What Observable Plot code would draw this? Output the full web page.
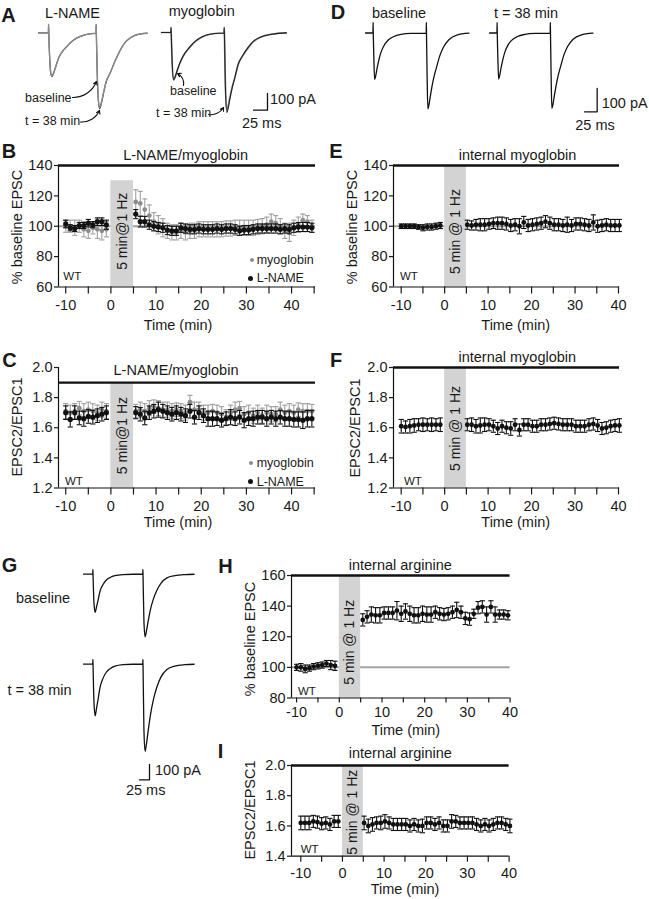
<!DOCTYPE html>
<html><head><meta charset="utf-8">
<script src="https://cdn.jsdelivr.net/npm/d3@7"></script>
<script src="https://cdn.jsdelivr.net/npm/@observablehq/plot@0.6"></script>
<style>
body{margin:0;background:#fff;}
#fig{position:relative;width:649px;height:899px;overflow:hidden;background:#fff;font-family:"Liberation Sans",Arial,Helvetica,sans-serif;color:#1a1a1a;}
#fig svg{position:absolute;overflow:visible;}
.t{position:absolute;white-space:nowrap;line-height:1;}
</style></head><body><div id="fig"></div>
<script>
// ---------------- DATA ----------------
// Time-course axes
const stimWindow = [0, 5];
const xMajorTicks = [-10, 0, 10, 20, 30, 40];
const xMinorTicksB = [-5, 5, 15, 25, 35, 45];
const xMinorTicks = [-5, 5, 15, 25, 35];
const pctTicks = [60, 80, 100, 120, 140];
const pctTicksH = [80, 100, 120, 140, 160];
const ratioTicks = [1.2, 1.4, 1.6, 1.8, 2.0];
const ratioTicksI = [1.4, 1.6, 1.8, 2.0];

// Times (min)
const tB = [-10,-9,-8,-7,-6,-5,-4,-3,-2,-1,5.5,6.5,7.5,8.5,9.5,10.5,11.5,12.5,13.5,14.5,15.5,16.5,17.5,18.5,19.5,20.5,21.5,22.5,23.5,24.5,25.5,26.5,27.5,28.5,29.5,30.5,31.5,32.5,33.5,34.5,35.5,36.5,37.5,38.5,39.5,40.5,41.5,42.5,43.5,44.5];
const tE = [-10,-9,-8,-7,-6,-5,-4,-3,-2,-1,5.2,6.2,7.2,8.2,9.2,10.2,11.2,12.2,13.2,14.2,15.2,16.2,17.2,18.2,19.2,20.2,21.2,22.2,23.2,24.2,25.2,26.2,27.2,28.2,29.2,30.2,31.2,32.2,33.2,34.2,35.2,36.2,37.2,38.2,39.2,40.2];
const tH = [-10,-9,-8,-7,-6,-5,-4,-3,-2,-1,5.5,6.5,7.5,8.5,9.5,10.5,11.5,12.5,13.5,14.5,15.5,16.5,17.5,18.5,19.5,20.5,21.5,22.5,23.5,24.5,25.5,26.5,27.5,28.5,29.5,30.5,31.5,32.5,33.5,34.5,35.5,36.5,37.5,38.5,39.5];

// B: % baseline EPSC
const bLname = [101.5,99,98.5,100.5,100.5,102,101,103,103,101, 108,103,103,101,100,99.5,99,97.5,97,97, 99,98.5,98,98,98.5,98,98,98,98.5,98, 98.5,98.5,98,97,97.5,97.5,98,98.5,98.5,98.5, 98.5,98.5,98,98.5,98,99,99.5,99.5,99.5,99];
const bLnameErr = [2.5,2,2,2,2,2.5,2,2.5,2.5,3, 3,3.5,3.5,3,3,3,3,3,3,3, 3,3,3,3,3,3,3,3,3,3, 3,3,3,3,3,3,3,3,3,3, 3,3,3,3,3,3,3,3,3,3];
const bMyo = [100,100,99,100,98,97,99,98,97,98, 116,115,111,107,103,101,99,97,96,96, 97,96,97,97,98,98,98,98,98,98, 98.5,98.5,99,99,99,99,99,99.5,100,101, 103,102,100,97,96,99,101,104,103,100];
const bMyoErr = [4,4,5,4,5,5,4,6,6,5, 8,8,7,7,6,6,6,5,5,5, 5,5,5,5,5,5,5,5,5,5, 5,5,5,5,5,5,5,5,5,5, 5,5,5,5,6,5,5,4,4,4];

// C: EPSC2/EPSC1
const cLname = [1.70,1.655,1.70,1.665,1.66,1.675,1.67,1.68,1.69,1.70, 1.70,1.69,1.665,1.70,1.71,1.72,1.71,1.70,1.69,1.70, 1.69,1.68,1.71,1.67,1.70,1.68,1.66,1.66,1.66,1.65, 1.66,1.67,1.66,1.67,1.65,1.66,1.66,1.67,1.67,1.66, 1.67,1.66,1.67,1.66,1.66,1.655,1.655,1.65,1.66,1.66];
const cLnameErr = [0.045,0.05,0.045,0.045,0.05,0.045,0.045,0.045,0.045,0.045, 0.04,0.045,0.045,0.045,0.045,0.05,0.045,0.045,0.045,0.045, 0.045,0.045,0.045,0.045,0.045,0.045,0.05,0.05,0.045,0.045, 0.045,0.05,0.045,0.045,0.05,0.045,0.05,0.045,0.045,0.05, 0.045,0.05,0.045,0.05,0.05,0.05,0.05,0.055,0.055,0.055];
const cMyo = [1.71,1.70,1.71,1.73,1.71,1.72,1.71,1.70,1.72,1.71, 1.71,1.72,1.71,1.73,1.74,1.73,1.72,1.72,1.71,1.72, 1.71,1.70,1.77,1.72,1.72,1.70,1.70,1.71,1.70,1.69, 1.67,1.70,1.72,1.73,1.69,1.70,1.68,1.70,1.68,1.70, 1.69,1.69,1.72,1.70,1.71,1.70,1.72,1.71,1.71,1.71];
const cMyoErr = [0.05,0.05,0.05,0.045,0.05,0.05,0.05,0.05,0.05,0.05, 0.045,0.05,0.05,0.05,0.045,0.05,0.05,0.05,0.05,0.045, 0.05,0.05,0.045,0.05,0.05,0.05,0.05,0.045,0.05,0.05, 0.05,0.05,0.05,0.045,0.05,0.05,0.05,0.05,0.05,0.05, 0.05,0.05,0.05,0.05,0.05,0.05,0.045,0.05,0.05,0.045];

// E: internal myoglobin, % baseline EPSC
const eV = [100,100,100,100,99.5,99,99.5,99.5,100,100.5, 101,100.5,101,101,101,101.5,102,102,102,101.5, 100.5,101,100,102.5,100.5,101,101.5,102,103,102, 101,101,100.5,101,100.5,101.5,101.5,101,100.5,102.5, 100,100.5,101,100.5,100.5,100.5];
const eErr = [1.5,1.5,1.5,1.5,1.5,2,2,2,2,2, 3,3,3.5,4,4,3.5,3.5,4,4,4, 4,4,5,4,4,4,4,4,4,4, 4,4,4,5,4,4,4,4,4,5, 4,4,4,4,4,4];

// F: internal myoglobin, EPSC2/EPSC1
const fV = [1.61,1.605,1.61,1.615,1.62,1.62,1.62,1.62,1.62,1.62, 1.62,1.62,1.61,1.615,1.62,1.62,1.61,1.595,1.61,1.60, 1.595,1.62,1.585,1.62,1.62,1.61,1.61,1.62,1.62,1.625, 1.63,1.625,1.62,1.62,1.62,1.61,1.61,1.61,1.62,1.625, 1.615,1.595,1.60,1.61,1.615,1.615];
const fErr = [0.045,0.04,0.045,0.045,0.04,0.045,0.04,0.045,0.04,0.045, 0.04,0.045,0.045,0.05,0.045,0.04,0.04,0.04,0.04,0.04, 0.045,0.04,0.04,0.04,0.04,0.04,0.04,0.04,0.04,0.04, 0.04,0.04,0.04,0.04,0.04,0.04,0.04,0.04,0.04,0.04, 0.04,0.04,0.04,0.04,0.04,0.045];

// H: internal arginine, % baseline EPSC
const hV = [100,100,99,99.5,100.5,101,101.5,102.5,101.5,101, 131,133,134.5,134,134,135.5,135.5,135.5,137,135, 136.5,135,134,134,135,134.5,134.5,136,135,134.5, 135,136,137.5,136,132,131.5,135,139,139.5,134.5, 139.5,134.5,134.5,134.5,134];
const hErr = [2,2.5,2.5,2,2,2,2,2,3,3, 4,4,5,5,5,4,4,4,6,5, 5,5,5,5,5,5,5,4,4,4, 4,4,5,4,4,4,3,4,4,5, 4,5,3,3,3];

// I: internal arginine, EPSC2/EPSC1
const iV = [1.62,1.62,1.62,1.63,1.625,1.615,1.62,1.61,1.63,1.63, 1.62,1.60,1.61,1.62,1.62,1.63,1.62,1.61,1.61,1.61, 1.61,1.60,1.61,1.60,1.60,1.62,1.62,1.61,1.62,1.60, 1.60,1.63,1.63,1.62,1.62,1.62,1.62,1.61,1.60,1.61, 1.60,1.61,1.62,1.62,1.61,1.60];
const iErr = [0.045,0.045,0.045,0.04,0.04,0.04,0.04,0.04,0.04,0.04, 0.045,0.045,0.045,0.04,0.045,0.045,0.04,0.04,0.04,0.04, 0.04,0.04,0.04,0.04,0.045,0.04,0.04,0.04,0.04,0.04, 0.04,0.045,0.04,0.04,0.04,0.04,0.04,0.04,0.04,0.04, 0.04,0.04,0.04,0.04,0.04,0.045];

// Example EPSC traces (ms, pA)
const aLnameMs = [-18,-0.3,0,0.5,2,4,6,9,13,18,25,33,42,51,62,75,84.7,85,85.5,87,89,91,94,98,103,110,118,127,136,147,160,176];
const aLnameBase = [0,0,50,-20,-150,-240,-260,-240,-200,-150,-110,-80,-50,-30,-15,-5,-3,50,-30,-250,-400,-447,-420,-360,-290,-240,-175,-110,-60,-28,-9,-2];
const aLname38 = [0,0,50,-20,-155,-245,-262,-242,-200,-150,-110,-80,-50,-30,-15,-5,-3,50,-30,-260,-410,-455,-428,-365,-292,-240,-175,-110,-60,-28,-9,-2];
const aMyoMs = [-17,-0.3,0,0.5,2,4.5,7,10,14,19,25,32,40,50,62,78,94.7,95,95.5,97,99.5,102,105,109,114,120,128,137,147,160,180,206];
const aMyoBase = [0,0,30,-20,-180,-285,-270,-240,-200,-160,-125,-95,-65,-38,-18,-6,-3,30,-30,-300,-462,-440,-390,-330,-270,-190,-140,-95,-55,-28,-10,-2];
const aMyo38 = [0,0,30,-20,-175,-282,-268,-238,-198,-158,-122,-92,-62,-36,-17,-6,-3,30,-30,-310,-478,-455,-400,-335,-270,-190,-138,-92,-53,-27,-10,-2];
const dMs = [-15,-0.3,0,0.4,1.5,3,5,8,12,16,22,30,40,55,75,104.7,105,105.4,106.5,108,110,113,117,121,126,132,139,150,165,189];
const dBase = [0,0,45,-10,-110,-200,-185,-150,-110,-80,-52,-30,-16,-6,-2,-1,45,-15,-180,-326,-310,-270,-220,-180,-140,-95,-60,-28,-9,-1];
const d38 = [0,0,45,-10,-105,-198,-183,-148,-108,-78,-50,-29,-15,-6,-2,-1,45,-15,-175,-324,-308,-268,-218,-178,-138,-93,-58,-27,-9,-1];
const gMs = [-23.5,-0.3,0,0.5,2.5,5.5,9,13,18,25,33,43,55,75,100,124.7,125,125.5,127.5,130.5,134,138,144,151,160,170,185,205,230,253];
const gBase = [0,0,30,-20,-180,-250,-215,-170,-110,-70,-40,-22,-10,-3,-1,-1,30,-30,-300,-410,-370,-310,-230,-165,-105,-60,-25,-10,-3,-1];
const g38 = [0,0,30,-25,-240,-338,-290,-230,-150,-95,-55,-30,-14,-4,-1,-1,30,-40,-420,-571,-520,-440,-330,-235,-150,-85,-35,-13,-4,-1];

// Scale bar (25 ms, 100 pA)
const scaleMs = [0, 25, 25];
const scalePA = [0, 0, 100];

// Annotation arrows of panel A (panel pixel coordinates)
const arrowsA = [
  {x1: 72, y1: 97, x2: 96, y2: 81},
  {x1: 80, y1: 121.5, x2: 99, y2: 110},
  {x1: 183, y1: 85, x2: 177, y2: 73},
  {x1: 208, y1: 114, x2: 223, y2: 107}
];

// ---------------- DRAWING ----------------
const FONT = '"Liberation Sans", Arial, Helvetica, sans-serif';
const INK = "#1a1a1a";
const fig = document.getElementById("fig");
function put(el, left, top) { el.style.position = "absolute"; el.style.left = left + "px"; el.style.top = top + "px"; fig.appendChild(el); }
function txt(s, x, y, o = {}) {
  const d = document.createElement("div");
  d.className = "t"; d.textContent = s;
  d.style.fontSize = (o.size || 14.5) + "px";
  if (o.bold) d.style.fontWeight = "bold";
  const tx = o.anchor === "start" ? "0" : o.anchor === "end" ? "-100%" : "-50%";
  d.style.transform = `translate(${tx},-50%)` + (o.rot ? ` rotate(${o.rot}deg)` : "");
  put(d, x, y);
}
function legendDot(x, y, r, color) {
  const d = document.createElement("div");
  d.style.width = d.style.height = (2 * r) + "px";
  d.style.borderRadius = "50%"; d.style.background = color;
  put(d, x - r, y - r);
}
const cap = { draw(ctx, size) { const r = Math.sqrt(size / Math.PI); ctx.moveTo(-r, 0); ctx.lineTo(r, 0); } };

function timecourse(o) {
  const [L, R, T, B] = o.frame;
  const mL = 50, mR = 15, mT = 12, mB = 40;
  const xd = o.xDomain, yd = o.yDomain;
  const marks = [];
  if (o.ref != null) marks.push(Plot.ruleY([o.ref], {stroke: "#a3a3a3", strokeWidth: 2}));
  marks.push(Plot.rect([{a: stimWindow[0], b: stimWindow[1], c: yd[0], d: o.shadeTop}], {x1: "a", x2: "b", y1: "c", y2: "d", fill: "#d3d3d3"}));
  marks.push(Plot.text([{x: (stimWindow[0] + stimWindow[1]) / 2, y: o.labelY, s: o.stimText}], {x: "x", y: "y", text: "s", rotate: -90, fontSize: 14, fill: INK}));
  marks.push(Plot.ruleY([o.bar], {stroke: "#111", strokeWidth: 2.3}));
  marks.push(Plot.ruleX([xd[0]], {stroke: "#111", strokeWidth: 1.2}));
  marks.push(Plot.ruleY([yd[0]], {stroke: "#111", strokeWidth: 1.2}));
  marks.push(Plot.axisY({ticks: o.yTicks, tickSize: 4, tickPadding: 2, tickFormat: o.yFormat, label: null, strokeWidth: 1.2}));
  marks.push(Plot.axisX({ticks: xMajorTicks, tickSize: o.xTickSize ?? 7, tickPadding: o.xTickPad ?? 6, tickFormat: d => String(d), label: null, strokeWidth: 1.2}));
  marks.push(Plot.axisX({ticks: o.xMinor, tickSize: o.xTickSize ?? 7, tickFormat: () => "", label: null, strokeWidth: 1.2}));
  for (const s of o.series) {
    const rows = s.t.map((t, i) => ({t, v: s.v[i], lo: s.v[i] - s.e[i], hi: s.v[i] + s.e[i]}));
    marks.push(Plot.ruleX(rows, {x: "t", y1: "lo", y2: "hi", stroke: s.err, strokeWidth: 1.1}));
    marks.push(Plot.dot(rows, {x: "t", y: "hi", symbol: cap, r: 2.6, stroke: s.err, fill: "none", strokeWidth: 1.1}));
    marks.push(Plot.dot(rows, {x: "t", y: "lo", symbol: cap, r: 2.6, stroke: s.err, fill: "none", strokeWidth: 1.1}));
    marks.push(Plot.dot(rows, {x: "t", y: "v", r: s.r ?? 2.4, fill: s.fill, stroke: "none"}));
  }
  const svg = Plot.plot({
    width: R - L + mL + mR, height: B - T + mT + mB,
    marginLeft: mL, marginRight: mR, marginTop: mT, marginBottom: mB,
    x: {domain: xd}, y: {domain: yd},
    style: {fontFamily: FONT, fontSize: "14.5px", background: "transparent", color: INK, overflow: "visible"},
    marks
  });
  put(svg, L - mL, T - mT);
}

function traces(o) {
  const pad = 4;
  const all = o.series.flatMap(s => s.v);
  const t0 = d3.min(o.t), t1 = d3.max(o.t), v0 = d3.min(all), v1 = d3.max(all);
  const svg = Plot.plot({
    width: (t1 - t0) * o.pxMs + 2 * pad, height: (v1 - v0) * o.pxPA + 2 * pad,
    margin: pad, x: {domain: [t0, t1]}, y: {domain: [v0, v1]}, axis: null,
    style: {background: "transparent", overflow: "visible"},
    marks: o.series.map(s => Plot.line(o.t.map((x, i) => ({x, y: s.v[i]})), {x: "x", y: "y", stroke: s.color, strokeWidth: s.w ?? 1.3, curve: "monotone-x"}))
  });
  put(svg, o.ox + t0 * o.pxMs - pad, o.oy - v1 * o.pxPA - pad);
}

function scaleBar(o) {
  const pad = 3;
  const svg = Plot.plot({
    width: 25 * o.pxMs + 2 * pad, height: 100 * o.pxPA + 2 * pad, margin: pad,
    x: {domain: [0, 25]}, y: {domain: [0, 100]}, axis: null,
    style: {background: "transparent", overflow: "visible"},
    marks: [Plot.line(scaleMs.map((x, i) => ({x, y: scalePA[i]})), {x: "x", y: "y", stroke: "#111", strokeWidth: 1.3})]
  });
  put(svg, o.cx - 25 * o.pxMs - pad, o.cy - 100 * o.pxPA - pad);
}

const GRAY = "#8c8c8c", GRAYERR = "#a0a0a0", BLACK = "#111";
const fmt1 = d => d.toFixed(1);
const fmt0 = d => String(d);

// B
timecourse({frame: [58, 315, 165, 286.5], xDomain: [-11.6, 45.3], yDomain: [60, 140], yTicks: pctTicks, yFormat: fmt0,
  xMinor: xMinorTicksB, shadeTop: 130, bar: 140, ref: 100, labelY: 96.7, stimText: "5 min@1 Hz",
  series: [{t: tB, v: bMyo, e: bMyoErr, fill: GRAY, err: GRAYERR}, {t: tB, v: bLname, e: bLnameErr, fill: BLACK, err: BLACK, r: 2.6}]});
// C
timecourse({frame: [58, 315, 367, 487.5], xDomain: [-11.6, 45.3], yDomain: [1.2, 2.0], yTicks: ratioTicks, yFormat: fmt1,
  xMinor: xMinorTicksB, shadeTop: 1.9, bar: 1.9, labelY: 1.548, stimText: "5 min@1 Hz",
  series: [{t: tB, v: cMyo, e: cMyoErr, fill: GRAY, err: GRAYERR}, {t: tB, v: cLname, e: cLnameErr, fill: BLACK, err: BLACK, r: 2.6}]});
// E
timecourse({frame: [393.3, 619.3, 165, 286.5], xDomain: [-11.77, 40.23], yDomain: [60, 140], yTicks: pctTicks, yFormat: fmt0,
  xMinor: xMinorTicks, shadeTop: 140, bar: 140, ref: 100, labelY: 96.5, stimText: "5 min @ 1 Hz",
  series: [{t: tE, v: eV, e: eErr, fill: BLACK, err: BLACK}]});
// F
timecourse({frame: [393.3, 619.3, 367, 487.5], xDomain: [-11.77, 40.23], yDomain: [1.2, 2.0], yTicks: ratioTicks, yFormat: fmt1,
  xMinor: xMinorTicks, shadeTop: 2.0, bar: 2.0, labelY: 1.595, stimText: "5 min @ 1 Hz",
  series: [{t: tE, v: fV, e: fErr, fill: BLACK, err: BLACK}]});
// H
timecourse({frame: [290.7, 509.3, 575, 697.5], xDomain: [-11.19, 40], yDomain: [80, 160], yTicks: pctTicksH, yFormat: fmt0,
  xMinor: xMinorTicks, shadeTop: 160, bar: 160, ref: 100, labelY: 116.4, stimText: "5 min @ 1 Hz", xTickSize: 5, xTickPad: 4,
  series: [{t: tH, v: hV, e: hErr, fill: BLACK, err: BLACK}]});
// I
timecourse({frame: [290.7, 508.3, 765, 855.7], xDomain: [-12.23, 40], yDomain: [1.4, 2.0], yTicks: ratioTicksI, yFormat: fmt1,
  xMinor: xMinorTicks, shadeTop: 2.0, bar: 2.0, labelY: 1.691, stimText: "5 min @ 1 Hz", xTickSize: 6, xTickPad: 6,
  series: [{t: tE, v: iV, e: iErr, fill: BLACK, err: BLACK}]});

// Traces A
traces({t: aLnameMs, pxMs: 0.56, pxPA: 0.167, ox: 48.3, oy: 32.7, series: [{v: aLname38, color: "#444", w: 1.2}, {v: aLnameBase, color: "#8a8a8a", w: 1.4}]});
traces({t: aMyoMs, pxMs: 0.56, pxPA: 0.167, ox: 170.7, oy: 31.7, series: [{v: aMyoBase, color: "#8a8a8a", w: 1.7}, {v: aMyo38, color: "#222", w: 1.1}]});
scaleBar({pxMs: 0.56, pxPA: 0.167, cx: 266.7, cy: 110});
// Traces D
traces({t: dMs, pxMs: 0.507, pxPA: 0.233, ox: 372.7, oy: 32.3, series: [{v: dBase, color: BLACK}]});
traces({t: dMs, pxMs: 0.507, pxPA: 0.233, ox: 496.7, oy: 32.3, series: [{v: d38, color: BLACK}]});
scaleBar({pxMs: 0.507, pxPA: 0.233, cx: 596.7, cy: 111.7});
// Traces G
traces({t: gMs, pxMs: 0.4, pxPA: 0.153, ox: 92.7, oy: 573.3, series: [{v: gBase, color: BLACK}]});
traces({t: gMs, pxMs: 0.4, pxPA: 0.153, ox: 92.7, oy: 663.3, series: [{v: g38, color: BLACK}]});
scaleBar({pxMs: 0.4, pxPA: 0.153, cx: 149.3, cy: 779.3});

// Arrows of panel A
{
  const svg = Plot.plot({width: 330, height: 135, margin: 0, axis: null,
    x: {domain: [0, 330], range: [0, 330]}, y: {domain: [0, 135], range: [0, 135]},
    style: {background: "transparent", overflow: "visible"},
    marks: [Plot.arrow(arrowsA, {x1: "x1", y1: "y1", x2: "x2", y2: "y2", bend: -35, headLength: 5, stroke: BLACK, strokeWidth: 1.1})]});
  put(svg, 0, 0);
}

// ---------------- TEXT ----------------
const letters = [["A", 8.5, 14.5], ["D", 338, 12], ["B", 9, 150.5], ["E", 336, 150.5], ["C", 9.5, 359.5], ["F", 336, 359.5], ["G", 9.5, 564.5], ["H", 225.5, 565.5], ["I", 220.5, 750.5]];
for (const [s, x, y] of letters) txt(s, x, y, {size: 20, bold: true});

// titles
txt("L-NAME", 72.5, 13);
txt("myoglobin", 201.7, 11);
txt("baseline", 399, 13.3);
txt("t = 38 min", 526, 13.3);
txt("L-NAME/myoglobin", 185.7, 155);
txt("internal myoglobin", 517.5, 155);
txt("L-NAME/myoglobin", 176, 370);
txt("internal myoglobin", 517.3, 357.3);
txt("internal arginine", 400.3, 565);
txt("internal arginine", 400.3, 753.3);

// trace annotations
txt("baseline", 25, 98.3, {size: 12.5, anchor: "start"});
txt("t = 38 min", 25, 120.7, {size: 12.5, anchor: "start"});
txt("baseline", 170, 90.7, {size: 12.5, anchor: "start"});
txt("t = 38 min", 156, 112.7, {size: 12.5, anchor: "start"});
txt("100 pA", 270, 99.3, {anchor: "start"});
txt("25 ms", 261.7, 123.3);
txt("100 pA", 601.7, 103, {anchor: "start"});
txt("25 ms", 595, 125);
txt("baseline", 43, 598.3);
txt("t = 38 min", 39.5, 690);
txt("100 pA", 155, 770, {anchor: "start"});
txt("25 ms", 145.7, 790);

// axis labels
txt("% baseline EPSC", 16.7, 227, {rot: -90});
txt("EPSC2/EPSC1", 16.7, 426.7, {rot: -90});
txt("% baseline EPSC", 351.7, 227, {rot: -90});
txt("EPSC2/EPSC1", 355, 428, {rot: -90});
txt("% baseline EPSC", 250, 639, {rot: -90});
txt("EPSC2/EPSC1", 250, 810, {rot: -90});
txt("Time (min)", 178, 325);
txt("Time (min)", 515.7, 325);
txt("Time (min)", 178, 522);
txt("Time (min)", 515.7, 522);
txt("Time (min)", 405.8, 730);
txt("Time (min)", 405, 889);

// WT
txt("WT", 63.3, 277, {size: 11.5, anchor: "start"});
txt("WT", 65, 482.3, {size: 11.5, anchor: "start"});
txt("WT", 400, 276.7, {size: 11.5, anchor: "start"});
txt("WT", 404, 482.3, {size: 11.5, anchor: "start"});
txt("WT", 298, 691.7, {size: 11.5, anchor: "start"});
txt("WT", 300.7, 850, {size: 11.5, anchor: "start"});

// legends
legendDot(251.7, 260, 2.1, GRAY); txt("myoglobin", 256.7, 260, {size: 12.5, anchor: "start"});
legendDot(250.5, 278.3, 2.7, BLACK); txt("L-NAME", 256.7, 278.3, {size: 12.5, anchor: "start"});
legendDot(251.2, 462.7, 2.1, GRAY); txt("myoglobin", 256.7, 462.7, {size: 12.5, anchor: "start"});
legendDot(250.7, 481.7, 2.7, BLACK); txt("L-NAME", 256.7, 481.7, {size: 12.5, anchor: "start"});
</script></body></html>
